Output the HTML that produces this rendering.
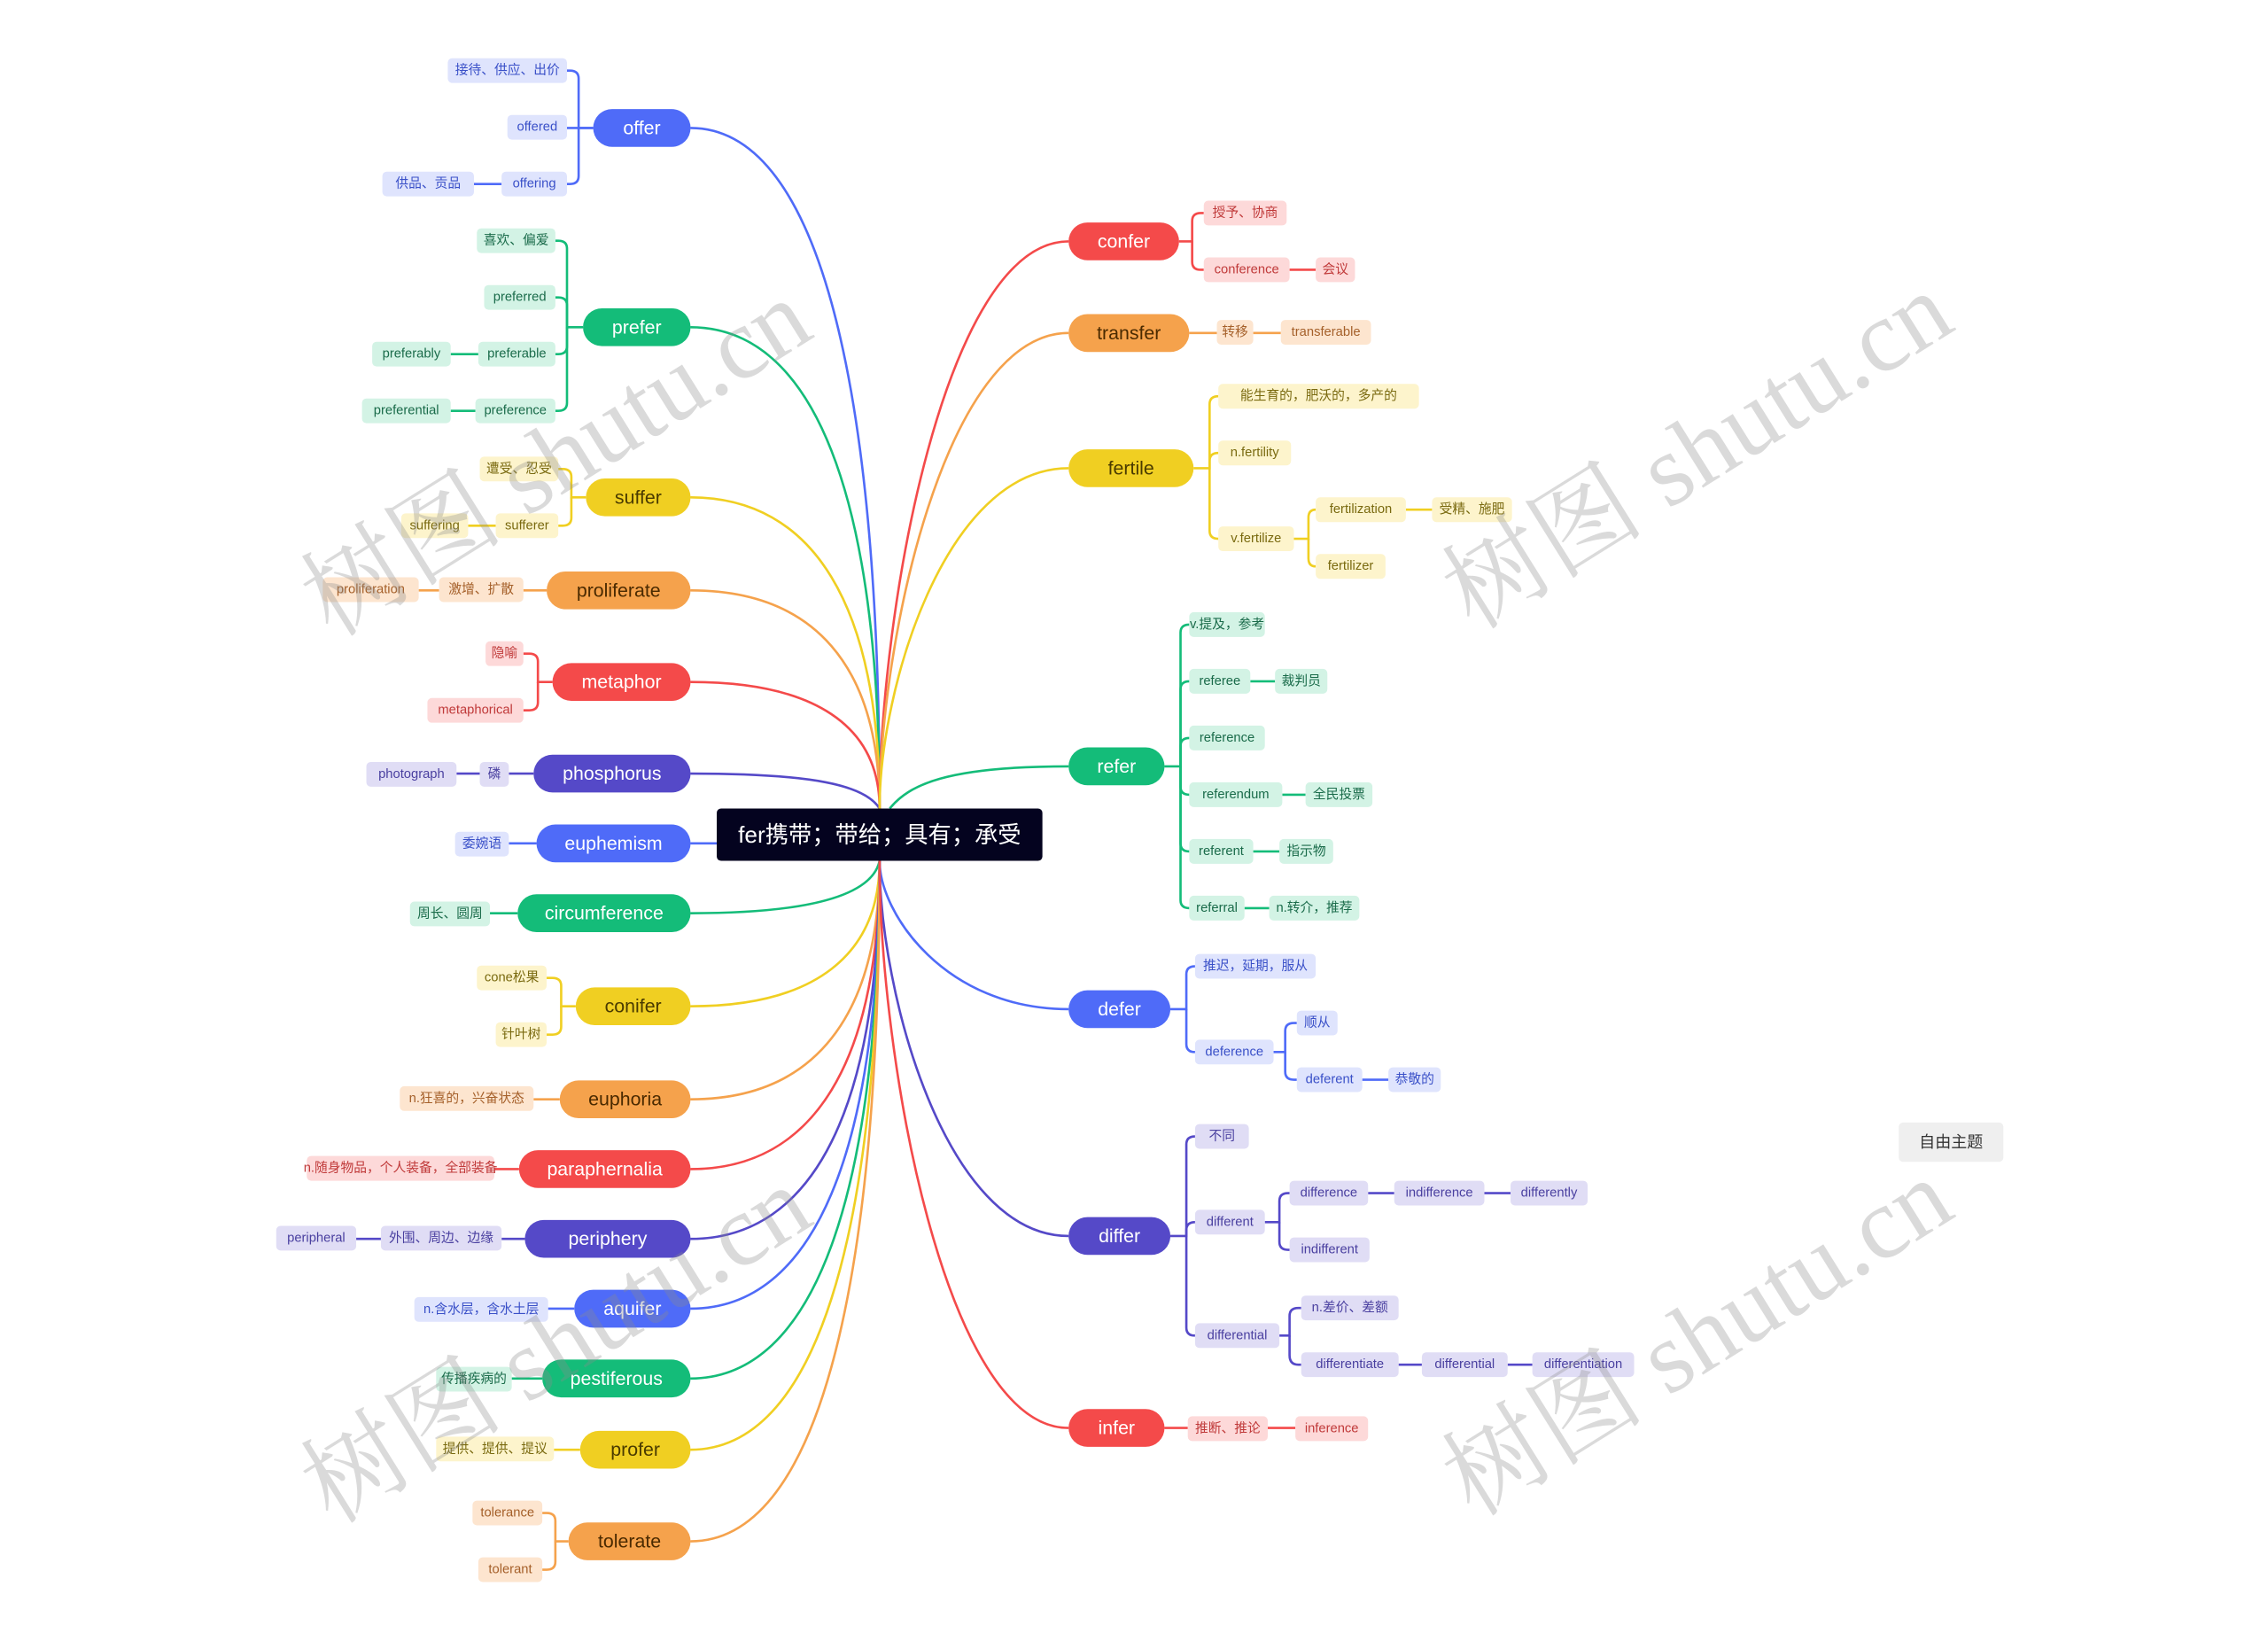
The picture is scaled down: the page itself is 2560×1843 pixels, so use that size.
<!DOCTYPE html>
<html><head><meta charset="utf-8"><style>
html,body{margin:0;padding:0;background:#fff;}
svg{display:block;}
text{font-family:"Liberation Sans","Noto Sans CJK SC",sans-serif;}
.m{font-size:13px;fill:#fff;text-anchor:middle;dominant-baseline:central;}
.s{font-size:9px;text-anchor:middle;dominant-baseline:central;}
.c{fill:none;stroke-width:1.6;}
.B{stroke:#4f6bf8}.G{stroke:#14bc79}.Y{stroke:#f0cf22}.O{stroke:#f5a24c}.R{stroke:#f44a4a}.I{stroke:#5549c8}
.bB{fill:#dfe4fd}.bG{fill:#d3f3e5}.bY{fill:#fdf4cc}.bO{fill:#fde5cf}.bR{fill:#fdd9d9}.bI{fill:#e0ddf5}
.tB{fill:#3a50c8}.tG{fill:#1a6b4a}.tY{fill:#7a6a10}.tO{fill:#a5602a}.tR{fill:#c03a3a}.tI{fill:#4a40a0}
.wm{font-family:"Liberation Serif","Noto Serif CJK SC",serif;font-size:70px;fill:rgba(140,140,140,0.32);text-anchor:middle;}
</style></head><body>
<svg width="2560" height="1843" viewBox="0 0 1560 1123" xmlns="http://www.w3.org/2000/svg">
<!-- main connectors left -->
<path class="c B" d="M475,88 C560,88 605,252 605,556"/>
<path class="c G" d="M475,225 C560,225 605,341 605,556"/>
<path class="c Y" d="M475,342 C560,342 605,417 605,556"/>
<path class="c O" d="M475,406 C560,406 605,458 605,556"/>
<path class="c R" d="M475,469 C560,469 605,499 605,556"/>
<path class="c I" d="M475,532 C560,532 595,540 605,556"/>
<path class="c B" d="M475,580 H493"/>
<path class="c G" d="M475,628 C560,628 600,615 605,592"/>
<path class="c Y" d="M475,692 C560,692 605,657 605,592"/>
<path class="c O" d="M475,756 C560,756 605,699 605,592"/>
<path class="c R" d="M475,804 C560,804 605,730 605,592"/>
<path class="c I" d="M475,852 C560,852 605,761 605,592"/>
<path class="c B" d="M475,900 C560,900 605,792 605,592"/>
<path class="c G" d="M475,948 C560,948 605,823 605,592"/>
<path class="c Y" d="M475,997 C560,997 605,855 605,592"/>
<path class="c O" d="M475,1060 C560,1060 605,896 605,592"/>
<!-- main connectors right -->
<path class="c R" d="M605,556 C605,420 650,166 735,166"/>
<path class="c O" d="M605,556 C605,442 650,229 735,229"/>
<path class="c Y" d="M605,556 C605,474 650,322 735,322"/>
<path class="c G" d="M612,556 C625,540 650,527 735,527"/>
<path class="c B" d="M605,592 C605,628 650,694 735,694"/>
<path class="c I" d="M605,592 C605,682 650,850 735,850"/>
<path class="c R" d="M605,592 C605,728 650,982 735,982"/>

<!-- brackets left -->
<g class="c B">
<path d="M408,88 H398 V54 Q398,48.5 392,48.5 H390"/><path d="M408,88 H390"/><path d="M398,88 V121 Q398,126.5 392,126.5 H390"/><path d="M345,126.5 H326"/>
</g>
<g class="c G">
<path d="M401,225 H390 V171 Q390,165.5 384,165.5 H382"/><path d="M390,225 V210 Q390,204.5 384,204.5 H382"/><path d="M390,225 V238 Q390,243.5 384,243.5 H382"/><path d="M390,225 V277 Q390,282.5 384,282.5 H382"/><path d="M329,243.5 H310"/><path d="M327,282.5 H310"/>
</g>
<g class="c Y">
<path d="M403,342 H393 V328 Q393,322.5 387,322.5 H384"/><path d="M393,342 V356 Q393,361.5 387,361.5 H384"/><path d="M341,361.5 H322"/>
</g>
<g class="c O"><path d="M376,406 H360"/><path d="M302,406 H288"/></g>
<g class="c R">
<path d="M380,469 H370 V455 Q370,449.5 364,449.5 H360"/><path d="M370,469 V483 Q370,488.5 364,488.5 H360"/>
</g>
<g class="c I"><path d="M367,532 H350"/><path d="M330,532 H314"/></g>
<g class="c B"><path d="M369,580 H350"/></g>
<g class="c G"><path d="M356,628 H337"/></g>
<g class="c Y">
<path d="M396,692 H386 V678 Q386,672.5 380,672.5 H376"/><path d="M386,692 V706 Q386,711.5 380,711.5 H376"/>
</g>
<g class="c O"><path d="M385,756 H367"/></g>
<g class="c R"><path d="M357,804 H340"/></g>
<g class="c I"><path d="M361,852 H345"/><path d="M262,852 H245"/></g>
<g class="c B"><path d="M395,900 H377"/></g>
<g class="c G"><path d="M373,948 H352"/></g>
<g class="c Y"><path d="M399,997 H381"/></g>
<g class="c O">
<path d="M391,1060 H382 V1046 Q382,1040.5 376,1040.5 H373"/><path d="M382,1060 V1074 Q382,1079.5 376,1079.5 H373"/>
</g>

<!-- brackets right -->
<g class="c R">
<path d="M811,166 H820 V152 Q820,146.5 826,146.5 H828"/><path d="M820,166 V180 Q820,185.5 826,185.5 H828"/><path d="M887,185.5 H905"/>
</g>
<g class="c O"><path d="M818,229 H837"/><path d="M862,229 H881"/></g>
<g class="c Y">
<path d="M821,322 H832 V278 Q832,272.5 838,272.5"/><path d="M832,322 V317 Q832,311.5 838,311.5"/><path d="M832,322 V365 Q832,370.5 838,370.5"/>
<path d="M890,370.5 H900 V356 Q900,350.5 905,350.5"/><path d="M900,370.5 V384 Q900,389.5 905,389.5"/><path d="M967,350.5 H985"/>
</g>
<g class="c G">
<path d="M801,527 H812 V435 Q812,429.5 818,429.5"/><path d="M812,527 V474 Q812,468.5 818,468.5"/><path d="M812,527 V513 Q812,507.5 818,507.5"/><path d="M812,527 V541 Q812,546.5 818,546.5"/><path d="M812,527 V580 Q812,585.5 818,585.5"/><path d="M812,527 V619 Q812,624.5 818,624.5"/>
<path d="M860,468.5 H877"/><path d="M882,546.5 H898"/><path d="M862,585.5 H880"/><path d="M856,624.5 H873"/>
</g>
<g class="c B">
<path d="M805,694 H816 V670 Q816,664.5 822,664.5"/><path d="M816,694 V718 Q816,723.5 822,723.5"/>
<path d="M876,723.5 H884 V709 Q884,703.5 890,703.5 H892"/><path d="M884,723.5 V737 Q884,742.5 890,742.5 H892"/><path d="M937,742.5 H955"/>
</g>
<g class="c I">
<path d="M805,850 H816 V787 Q816,781.5 822,781.5"/><path d="M816,850 V846 Q816,840.5 822,840.5"/><path d="M816,850 V913 Q816,918.5 822,918.5"/>
<path d="M870,840.5 H880 V826 Q880,820.5 886,820.5 H887"/><path d="M880,840.5 V854 Q880,859.5 886,859.5 H887"/><path d="M941,820.5 H959"/><path d="M1021,820.5 H1039"/>
<path d="M880,918.5 H887 V905 Q887,899.5 893,899.5 H895"/><path d="M887,918.5 V932 Q887,938.5 893,938.5 H895"/><path d="M962,938.5 H978"/><path d="M1037,938.5 H1054"/>
</g>
<g class="c R"><path d="M801,982 H817"/><path d="M872,982 H891"/></g>

<!-- center -->
<rect x="493" y="556" width="224" height="36" rx="3" fill="#04031f"/>
<text x="605" y="574" style="font-size:16px;fill:#fff;text-anchor:middle;dominant-baseline:central;">fer携带；带给；具有；承受</text>

<!-- main nodes left -->
<rect x="408" y="75" width="67" height="26" rx="13" fill="#4f6bf8"/><text class="m" x="441.5" y="88">offer</text>
<rect x="401" y="212" width="74" height="26" rx="13" fill="#14bc79"/><text class="m" x="438" y="225">prefer</text>
<rect x="403" y="329" width="72" height="26" rx="13" fill="#f0cf22"/><text class="m" x="439" y="342" style="fill:#4a3b00">suffer</text>
<rect x="376" y="393" width="99" height="26" rx="13" fill="#f5a24c"/><text class="m" x="425.5" y="406" style="fill:#4a2a00">proliferate</text>
<rect x="380" y="456" width="95" height="26" rx="13" fill="#f44a4a"/><text class="m" x="427.5" y="469">metaphor</text>
<rect x="367" y="519" width="108" height="26" rx="13" fill="#5549c8"/><text class="m" x="421" y="532">phosphorus</text>
<rect x="369" y="567" width="106" height="26" rx="13" fill="#4f6bf8"/><text class="m" x="422" y="580">euphemism</text>
<rect x="356" y="615" width="119" height="26" rx="13" fill="#14bc79"/><text class="m" x="415.5" y="628">circumference</text>
<rect x="396" y="679" width="79" height="26" rx="13" fill="#f0cf22"/><text class="m" x="435.5" y="692" style="fill:#4a3b00">conifer</text>
<rect x="385" y="743" width="90" height="26" rx="13" fill="#f5a24c"/><text class="m" x="430" y="756" style="fill:#4a2a00">euphoria</text>
<rect x="357" y="791" width="118" height="26" rx="13" fill="#f44a4a"/><text class="m" x="416" y="804">paraphernalia</text>
<rect x="361" y="839" width="114" height="26" rx="13" fill="#5549c8"/><text class="m" x="418" y="852">periphery</text>
<rect x="395" y="887" width="80" height="26" rx="13" fill="#4f6bf8"/><text class="m" x="435" y="900">aquifer</text>
<rect x="373" y="935" width="102" height="26" rx="13" fill="#14bc79"/><text class="m" x="424" y="948">pestiferous</text>
<rect x="399" y="984" width="76" height="26" rx="13" fill="#f0cf22"/><text class="m" x="437" y="997" style="fill:#4a3b00">profer</text>
<rect x="391" y="1047" width="84" height="26" rx="13" fill="#f5a24c"/><text class="m" x="433" y="1060" style="fill:#4a2a00">tolerate</text>

<!-- main nodes right -->
<rect x="735" y="153" width="76" height="26" rx="13" fill="#f44a4a"/><text class="m" x="773" y="166">confer</text>
<rect x="735" y="216" width="83" height="26" rx="13" fill="#f5a24c"/><text class="m" x="776.5" y="229" style="fill:#4a2a00">transfer</text>
<rect x="735" y="309" width="86" height="26" rx="13" fill="#f0cf22"/><text class="m" x="778" y="322" style="fill:#4a3b00">fertile</text>
<rect x="735" y="514" width="66" height="26" rx="13" fill="#14bc79"/><text class="m" x="768" y="527">refer</text>
<rect x="735" y="681" width="70" height="26" rx="13" fill="#4f6bf8"/><text class="m" x="770" y="694">defer</text>
<rect x="735" y="837" width="70" height="26" rx="13" fill="#5549c8"/><text class="m" x="770" y="850">differ</text>
<rect x="735" y="969" width="66" height="26" rx="13" fill="#f44a4a"/><text class="m" x="768" y="982">infer</text>

<!-- sub nodes left -->
<g>
<rect class="bB" x="308" y="40" width="82" height="17" rx="3"/><text class="s tB" x="349" y="48.5">接待、供应、出价</text>
<rect class="bB" x="349" y="79" width="41" height="17" rx="3"/><text class="s tB" x="369.5" y="87.5">offered</text>
<rect class="bB" x="345" y="118" width="45" height="17" rx="3"/><text class="s tB" x="367.5" y="126.5">offering</text>
<rect class="bB" x="263" y="118" width="63" height="17" rx="3"/><text class="s tB" x="294.5" y="126.5">供品、贡品</text>

<rect class="bG" x="328" y="157" width="54" height="17" rx="3"/><text class="s tG" x="355" y="165.5">喜欢、偏爱</text>
<rect class="bG" x="333" y="196" width="49" height="17" rx="3"/><text class="s tG" x="357.5" y="204.5">preferred</text>
<rect class="bG" x="329" y="235" width="53" height="17" rx="3"/><text class="s tG" x="355.5" y="243.5">preferable</text>
<rect class="bG" x="256" y="235" width="54" height="17" rx="3"/><text class="s tG" x="283" y="243.5">preferably</text>
<rect class="bG" x="327" y="274" width="55" height="17" rx="3"/><text class="s tG" x="354.5" y="282.5">preference</text>
<rect class="bG" x="249" y="274" width="61" height="17" rx="3"/><text class="s tG" x="279.5" y="282.5">preferential</text>

<rect class="bY" x="330" y="314" width="54" height="17" rx="3"/><text class="s tY" x="357" y="322.5">遭受、忍受</text>
<rect class="bY" x="341" y="353" width="43" height="17" rx="3"/><text class="s tY" x="362.5" y="361.5">sufferer</text>
<rect class="bY" x="276" y="353" width="46" height="17" rx="3"/><text class="s tY" x="299" y="361.5">suffering</text>

<rect class="bO" x="302" y="397" width="58" height="17" rx="3"/><text class="s tO" x="331" y="405.5">激增、扩散</text>
<rect class="bO" x="222" y="397" width="66" height="17" rx="3"/><text class="s tO" x="255" y="405.5">proliferation</text>

<rect class="bR" x="334" y="441" width="26" height="17" rx="3"/><text class="s tR" x="347" y="449.5">隐喻</text>
<rect class="bR" x="294" y="480" width="66" height="17" rx="3"/><text class="s tR" x="327" y="488.5">metaphorical</text>

<rect class="bI" x="330" y="524" width="20" height="17" rx="3"/><text class="s tI" x="340" y="532.5">磷</text>
<rect class="bI" x="252" y="524" width="62" height="17" rx="3"/><text class="s tI" x="283" y="532.5">photograph</text>

<rect class="bB" x="313" y="572" width="37" height="17" rx="3"/><text class="s tB" x="331.5" y="580.5">委婉语</text>
<rect class="bG" x="282" y="620" width="55" height="17" rx="3"/><text class="s tG" x="309.5" y="628.5">周长、圆周</text>

<rect class="bY" x="328" y="664" width="48" height="17" rx="3"/><text class="s tY" x="352" y="672.5">cone松果</text>
<rect class="bY" x="341" y="703" width="35" height="17" rx="3"/><text class="s tY" x="358.5" y="711.5">针叶树</text>

<rect class="bO" x="275" y="747" width="92" height="17" rx="3"/><text class="s tO" x="321" y="755.5">n.狂喜的，兴奋状态</text>
<rect class="bR" x="211" y="795" width="129" height="17" rx="3"/><text class="s tR" x="275.5" y="803.5">n.随身物品，个人装备，全部装备</text>

<rect class="bI" x="262" y="843" width="83" height="17" rx="3"/><text class="s tI" x="303.5" y="851.5">外围、周边、边缘</text>
<rect class="bI" x="190" y="843" width="55" height="17" rx="3"/><text class="s tI" x="217.5" y="851.5">peripheral</text>

<rect class="bB" x="285" y="892" width="92" height="17" rx="3"/><text class="s tB" x="331" y="900.5">n.含水层，含水土层</text>
<rect class="bG" x="300" y="940" width="52" height="17" rx="3"/><text class="s tG" x="326" y="948.5">传播疾病的</text>
<rect class="bY" x="300" y="988" width="81" height="17" rx="3"/><text class="s tY" x="340.5" y="996.5">提供、提供、提议</text>

<rect class="bO" x="325" y="1032" width="48" height="17" rx="3"/><text class="s tO" x="349" y="1040.5">tolerance</text>
<rect class="bO" x="329" y="1071" width="44" height="17" rx="3"/><text class="s tO" x="351" y="1079.5">tolerant</text>
</g>

<!-- sub nodes right -->
<g>
<rect class="bR" x="828" y="138" width="57" height="17" rx="3"/><text class="s tR" x="856.5" y="146.5">授予、协商</text>
<rect class="bR" x="828" y="177" width="59" height="17" rx="3"/><text class="s tR" x="857.5" y="185.5">conference</text>
<rect class="bR" x="905" y="177" width="27" height="17" rx="3"/><text class="s tR" x="918.5" y="185.5">会议</text>

<rect class="bO" x="837" y="220" width="25" height="17" rx="3"/><text class="s tO" x="849.5" y="228.5">转移</text>
<rect class="bO" x="881" y="220" width="62" height="17" rx="3"/><text class="s tO" x="912" y="228.5">transferable</text>

<rect class="bY" x="838" y="264" width="138" height="17" rx="3"/><text class="s tY" x="907" y="272.5">能生育的，肥沃的，多产的</text>
<rect class="bY" x="838" y="303" width="50" height="17" rx="3"/><text class="s tY" x="863" y="311.5">n.fertility</text>
<rect class="bY" x="838" y="362" width="52" height="17" rx="3"/><text class="s tY" x="864" y="370.5">v.fertilize</text>
<rect class="bY" x="905" y="342" width="62" height="17" rx="3"/><text class="s tY" x="936" y="350.5">fertilization</text>
<rect class="bY" x="985" y="342" width="55" height="17" rx="3"/><text class="s tY" x="1012.5" y="350.5">受精、施肥</text>
<rect class="bY" x="905" y="381" width="48" height="17" rx="3"/><text class="s tY" x="929" y="389.5">fertilizer</text>

<rect class="bG" x="818" y="421" width="52" height="17" rx="3"/><text class="s tG" x="844" y="429.5">v.提及，参考</text>
<rect class="bG" x="818" y="460" width="42" height="17" rx="3"/><text class="s tG" x="839" y="468.5">referee</text>
<rect class="bG" x="877" y="460" width="36" height="17" rx="3"/><text class="s tG" x="895" y="468.5">裁判员</text>
<rect class="bG" x="818" y="499" width="52" height="17" rx="3"/><text class="s tG" x="844" y="507.5">reference</text>
<rect class="bG" x="818" y="538" width="64" height="17" rx="3"/><text class="s tG" x="850" y="546.5">referendum</text>
<rect class="bG" x="898" y="538" width="46" height="17" rx="3"/><text class="s tG" x="921" y="546.5">全民投票</text>
<rect class="bG" x="818" y="577" width="44" height="17" rx="3"/><text class="s tG" x="840" y="585.5">referent</text>
<rect class="bG" x="880" y="577" width="37" height="17" rx="3"/><text class="s tG" x="898.5" y="585.5">指示物</text>
<rect class="bG" x="818" y="616" width="38" height="17" rx="3"/><text class="s tG" x="837" y="624.5">referral</text>
<rect class="bG" x="873" y="616" width="62" height="17" rx="3"/><text class="s tG" x="904" y="624.5">n.转介，推荐</text>

<rect class="bB" x="822" y="656" width="83" height="17" rx="3"/><text class="s tB" x="863.5" y="664.5">推迟，延期，服从</text>
<rect class="bB" x="822" y="715" width="54" height="17" rx="3"/><text class="s tB" x="849" y="723.5">deference</text>
<rect class="bB" x="892" y="695" width="28" height="17" rx="3"/><text class="s tB" x="906" y="703.5">顺从</text>
<rect class="bB" x="892" y="734" width="45" height="17" rx="3"/><text class="s tB" x="914.5" y="742.5">deferent</text>
<rect class="bB" x="955" y="734" width="36" height="17" rx="3"/><text class="s tB" x="973" y="742.5">恭敬的</text>

<rect class="bI" x="822" y="773" width="37" height="17" rx="3"/><text class="s tI" x="840.5" y="781.5">不同</text>
<rect class="bI" x="822" y="832" width="48" height="17" rx="3"/><text class="s tI" x="846" y="840.5">different</text>
<rect class="bI" x="887" y="812" width="54" height="17" rx="3"/><text class="s tI" x="914" y="820.5">difference</text>
<rect class="bI" x="959" y="812" width="62" height="17" rx="3"/><text class="s tI" x="990" y="820.5">indifference</text>
<rect class="bI" x="1039" y="812" width="53" height="17" rx="3"/><text class="s tI" x="1065.5" y="820.5">differently</text>
<rect class="bI" x="887" y="851" width="55" height="17" rx="3"/><text class="s tI" x="914.5" y="859.5">indifferent</text>
<rect class="bI" x="822" y="910" width="58" height="17" rx="3"/><text class="s tI" x="851" y="918.5">differential</text>
<rect class="bI" x="895" y="891" width="67" height="17" rx="3"/><text class="s tI" x="928.5" y="899.5">n.差价、差额</text>
<rect class="bI" x="895" y="930" width="67" height="17" rx="3"/><text class="s tI" x="928.5" y="938.5">differentiate</text>
<rect class="bI" x="978" y="930" width="59" height="17" rx="3"/><text class="s tI" x="1007.5" y="938.5">differential</text>
<rect class="bI" x="1054" y="930" width="70" height="17" rx="3"/><text class="s tI" x="1089" y="938.5">differentiation</text>

<rect class="bR" x="817" y="974" width="55" height="17" rx="3"/><text class="s tR" x="844.5" y="982.5">推断、推论</text>
<rect class="bR" x="891" y="974" width="50" height="17" rx="3"/><text class="s tR" x="916" y="982.5">inference</text>
</g>

<!-- free topic -->
<rect x="1306" y="772" width="72" height="27" rx="3" fill="#efefef"/>
<text x="1342" y="785.5" style="font-size:11px;fill:#333;text-anchor:middle;dominant-baseline:central;">自由主题</text>

<!-- watermarks -->
<text class="wm" transform="translate(395,335) rotate(-32)">树图 shutu.cn</text>
<text class="wm" transform="translate(1180,330) rotate(-32)">树图 shutu.cn</text>
<text class="wm" transform="translate(395,945) rotate(-32)">树图 shutu.cn</text>
<text class="wm" transform="translate(1180,940) rotate(-32)">树图 shutu.cn</text>
</svg>
</body></html>
